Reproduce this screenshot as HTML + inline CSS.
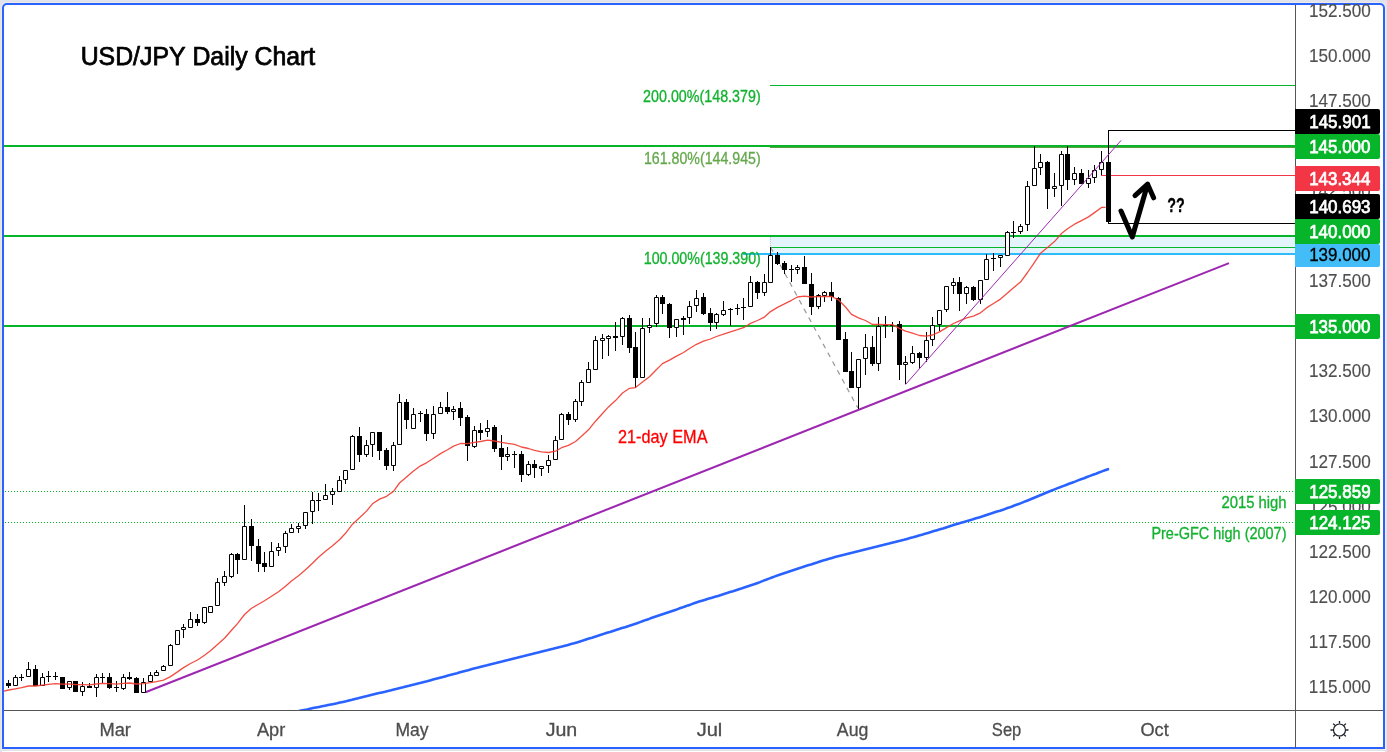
<!DOCTYPE html>
<html><head><meta charset="utf-8"><style>
html,body{margin:0;padding:0;width:1387px;height:752px;overflow:hidden;background:#e0e3eb;}
#frame{position:absolute;left:2px;top:3px;width:1379px;height:742px;border:2px solid #2962ff;border-radius:5px 5px 0 0;background:#fff;box-shadow:0 0 0 1px #ecebe8;}
#wb{position:absolute;left:2px;top:751px;width:1383px;height:1px;background:#fff;}
svg text{font-family:"Liberation Sans",sans-serif;font-kerning:none;}
</style></head><body><div id="frame"></div><div id="wb"></div>
<svg width="1387" height="752" viewBox="0 0 1387 752" style="position:absolute;left:0;top:0;will-change:transform">
<defs><clipPath id="cp"><rect x="4" y="5" width="1291" height="705"/></clipPath></defs>
<g clip-path="url(#cp)">
<rect x="770" y="237" width="525" height="16" fill="#e3f4fc"/>
<path d="M770.5 237V247" stroke="#b8bfe6" stroke-width="1" stroke-dasharray="1 1" shape-rendering="crispEdges"/>
<g shape-rendering="crispEdges">
<rect x="4" y="145" width="1291" height="2" fill="#07b52a"/>
<rect x="4" y="235" width="1291" height="2" fill="#07b52a"/>
<rect x="4" y="325" width="1291" height="2" fill="#07b52a"/>
<rect x="770" y="85" width="525" height="1" fill="#07b52a"/>
<rect x="770" y="147" width="525" height="1" fill="#5b9e3c"/>
<rect x="771" y="247" width="524" height="1" fill="#07b52a"/>
<rect x="743" y="253" width="552" height="2" fill="#2ebbfb"/>
<path d="M5 491.5H1295M5 522.5H1295" stroke="#07b52a" stroke-width="1" stroke-dasharray="1 2"/>
<path d="M1295 130.5H1108.5V223.5H1295" stroke="#000" stroke-width="1" fill="none"/>
<path d="M1101 175.5H1295" stroke="#f23645" stroke-width="1"/>
</g>
<polyline points="298.0,711.3 301.0,710.6 304.0,710.0 307.0,709.4 310.0,708.7 313.0,708.1 316.0,707.5 319.0,706.9 322.0,706.3 325.0,705.7 328.0,705.1 331.0,704.5 334.0,703.9 337.0,703.3 340.0,702.6 343.0,701.9 346.0,701.2 349.0,700.4 352.0,699.7 355.0,698.9 358.0,698.2 361.0,697.4 364.0,696.7 367.0,696.0 370.0,695.2 373.0,694.5 376.0,693.8 379.0,693.1 382.0,692.4 385.0,691.7 388.0,690.9 391.0,690.2 394.0,689.4 397.0,688.7 400.0,687.9 403.0,687.2 406.0,686.4 409.0,685.7 412.0,684.9 415.0,684.2 418.0,683.4 421.0,682.7 424.0,681.9 427.0,681.2 430.0,680.4 433.0,679.6 436.0,678.8 439.0,678.0 442.0,677.2 445.0,676.4 448.0,675.6 451.0,674.8 454.0,674.0 457.0,673.2 460.0,672.3 463.0,671.5 466.0,670.7 469.0,669.9 472.0,669.1 475.0,668.3 478.0,667.6 481.0,666.8 484.0,666.0 487.0,665.3 490.0,664.5 493.0,663.7 496.0,663.0 499.0,662.2 502.0,661.5 505.0,660.7 508.0,660.0 511.0,659.2 514.0,658.5 517.0,657.8 520.0,657.0 523.0,656.3 526.0,655.5 529.0,654.8 532.0,654.1 535.0,653.3 538.0,652.6 541.0,651.8 544.0,651.0 547.0,650.3 550.0,649.5 553.0,648.8 556.0,648.0 559.0,647.2 562.0,646.5 565.0,645.7 568.0,644.9 571.0,644.1 574.0,643.3 577.0,642.4 580.0,641.5 583.0,640.6 586.0,639.6 589.0,638.6 592.0,637.7 595.0,636.7 598.0,635.7 601.0,634.7 604.0,633.8 607.0,632.8 610.0,631.9 613.0,630.9 616.0,630.0 619.0,629.1 622.0,628.1 625.0,627.2 628.0,626.2 631.0,625.2 634.0,624.2 637.0,623.2 640.0,622.1 643.0,621.0 646.0,619.9 649.0,618.9 652.0,617.8 655.0,616.7 658.0,615.7 661.0,614.7 664.0,613.7 667.0,612.7 670.0,611.7 673.0,610.7 676.0,609.7 679.0,608.6 682.0,607.6 685.0,606.5 688.0,605.4 691.0,604.4 694.0,603.3 697.0,602.3 700.0,601.3 703.0,600.4 706.0,599.5 709.0,598.6 712.0,597.7 715.0,596.8 718.0,595.9 721.0,594.9 724.0,594.0 727.0,593.1 730.0,592.1 733.0,591.2 736.0,590.2 739.0,589.2 742.0,588.3 745.0,587.3 748.0,586.3 751.0,585.3 754.0,584.3 757.0,583.2 760.0,582.1 763.0,580.9 766.0,579.8 769.0,578.6 772.0,577.5 775.0,576.4 778.0,575.3 781.0,574.3 784.0,573.3 787.0,572.3 790.0,571.2 793.0,570.2 796.0,569.2 799.0,568.2 802.0,567.3 805.0,566.3 808.0,565.3 811.0,564.4 814.0,563.4 817.0,562.5 820.0,561.5 823.0,560.6 826.0,559.7 829.0,558.8 832.0,557.9 835.0,557.1 838.0,556.3 841.0,555.5 844.0,554.8 847.0,554.0 850.0,553.2 853.0,552.5 856.0,551.7 859.0,551.0 862.0,550.2 865.0,549.5 868.0,548.8 871.0,548.1 874.0,547.3 877.0,546.6 880.0,545.8 883.0,545.1 886.0,544.3 889.0,543.6 892.0,542.8 895.0,542.1 898.0,541.3 901.0,540.6 904.0,539.8 907.0,538.9 910.0,538.1 913.0,537.3 916.0,536.4 919.0,535.5 922.0,534.7 925.0,533.8 928.0,532.9 931.0,532.0 934.0,531.1 937.0,530.2 940.0,529.3 943.0,528.4 946.0,527.4 949.0,526.5 952.0,525.6 955.0,524.6 958.0,523.7 961.0,522.8 964.0,521.9 967.0,521.1 970.0,520.2 973.0,519.3 976.0,518.3 979.0,517.4 982.0,516.5 985.0,515.5 988.0,514.5 991.0,513.6 994.0,512.6 997.0,511.6 1000.0,510.7 1003.0,509.7 1006.0,508.6 1009.0,507.6 1012.0,506.5 1015.0,505.3 1018.0,504.2 1021.0,503.1 1024.0,501.9 1027.0,500.7 1030.0,499.5 1033.0,498.2 1036.0,497.0 1039.0,495.7 1042.0,494.5 1045.0,493.2 1048.0,492.0 1051.0,490.8 1054.0,489.6 1057.0,488.4 1060.0,487.3 1063.0,486.1 1066.0,485.0 1069.0,483.8 1072.0,482.7 1075.0,481.6 1078.0,480.4 1081.0,479.3 1084.0,478.2 1087.0,477.0 1090.0,475.9 1093.0,474.8 1096.0,473.7 1099.0,472.5 1102.0,471.4 1105.0,470.3 1108.0,469.2" fill="none" stroke="#2962ff" stroke-width="2.6" stroke-linecap="round" stroke-linejoin="round"/>
<path d="M145.5 692.3L1229 263.1" stroke="#9c27b0" stroke-width="2.05" fill="none"/>
<path d="M770.6 247.2L857.8 407.9" stroke="#9a9a9a" stroke-width="1.25" stroke-dasharray="5 5" fill="none"/>
<path d="M8.5 680V688M15.5 675V677M15.5 686V686M21.5 674V681M28.5 662V669M28.5 677V677M35.5 665V686M42.5 673V677M42.5 686V686M48.5 671V682M55.5 672V680M62.5 677V689M69.5 681V681M69.5 688V690M75.5 681V692M82.5 682V686M82.5 692V696M89.5 683V688M96.5 674V677M96.5 688V697M102.5 673V683M109.5 673V689M116.5 681V692M123.5 674V677M123.5 689V690M129.5 672V680M136.5 677V693M143.5 678V682M143.5 693V693M150.5 672V675M150.5 682V682M156.5 670V672M156.5 676V676M163.5 665V666M163.5 671V671M170.5 644V645M170.5 666V666M177.5 630V630M177.5 645V645M183.5 624V627M183.5 630V638M190.5 612V619M190.5 628V628M197.5 614V626M204.5 607V607M204.5 623V624M210.5 606V606M210.5 613V613M217.5 578V582M217.5 606V606M224.5 571V576M224.5 583V586M231.5 553V554M231.5 577V578M237.5 553V574M244.5 505V526M244.5 560V560M251.5 519V561M258.5 539V572M264.5 552V572M271.5 542V551M271.5 567V567M278.5 543V547M278.5 551V556M285.5 531V533M285.5 547V553M291.5 524V528M291.5 533V533M298.5 523V526M298.5 529V533M305.5 512V512M305.5 526V529M312.5 492V500M312.5 512V524M318.5 493V511M325.5 484V495M325.5 500V500M332.5 488V491M332.5 495V505M339.5 476V480M339.5 492V492M345.5 470V470M345.5 480V484M352.5 435V436M352.5 470V470M359.5 427V462M366.5 440V445M366.5 455V457M372.5 432V432M372.5 445V457M379.5 432V460M386.5 448V470M393.5 442V445M393.5 466V471M399.5 394V402M399.5 445V445M406.5 399V429M413.5 408V414M413.5 429V429M420.5 411V422M426.5 409V441M433.5 406V414M433.5 434V439M440.5 402V407M440.5 414V414M447.5 392V414M453.5 406V409M453.5 412V420M460.5 402V426M467.5 415V461M474.5 426V430M474.5 447V448M480.5 423V440M487.5 420V428M487.5 432V437M494.5 425V452M501.5 435V470M507.5 447V454M507.5 457V461M514.5 451V468M521.5 451V482M528.5 461V464M528.5 475V476M534.5 460V478M541.5 466V466M541.5 469V476M548.5 455V460M548.5 466V473M555.5 436V440M555.5 460V460M561.5 413V414M561.5 440V440M568.5 412V425M575.5 399V401M575.5 420V422M581.5 380V382M581.5 402V406M588.5 362V369M588.5 383V383M595.5 336V340M595.5 370V370M602.5 334V338M602.5 341V359M608.5 335V336M608.5 339V356M615.5 322V351M622.5 317V318M622.5 337V345M629.5 315V353M635.5 332V388M642.5 318V328M642.5 378V378M649.5 318V325M649.5 328V333M656.5 295V297M656.5 324V327M662.5 295V314M669.5 303V338M676.5 319V319M676.5 328V337M683.5 316V335M689.5 301V306M689.5 318V324M696.5 290V298M696.5 306V312M703.5 293V315M710.5 308V331M716.5 313V314M716.5 323V329M723.5 301V310M723.5 315V316M730.5 308V326M737.5 304V315M743.5 298V320M750.5 276V282M750.5 307V307M757.5 281V299M764.5 274V282M764.5 293V296M770.5 247V255M770.5 283V283M777.5 252V265M784.5 261V274M791.5 265V282M797.5 265V267M797.5 270V274M804.5 256V284M811.5 273V315M818.5 294V295M818.5 307V309M824.5 291V292M824.5 296V302M831.5 282V301M838.5 297V340M845.5 332V372M851.5 352V388M858.5 359V359M858.5 388V409M865.5 334V347M865.5 359V375M872.5 336V366M878.5 317V326M878.5 364V371M885.5 316V338M892.5 322V332M899.5 321V380M905.5 356V362M905.5 365V384M912.5 346V353M912.5 363V364M919.5 352V369M926.5 332V340M926.5 358V362M932.5 317V325M932.5 340V346M939.5 310V310M939.5 325V331M946.5 286V286M946.5 310V312M953.5 278V282M953.5 286V294M959.5 277V311M966.5 286V287M966.5 294V304M973.5 286V301M980.5 280V280M980.5 300V304M986.5 254V259M986.5 280V280M993.5 253V271M1000.5 255V255M1000.5 258V267M1007.5 231V232M1007.5 256V256M1013.5 221V238M1020.5 224V226M1020.5 232V234M1027.5 181V186M1027.5 225V231M1034.5 146V168M1034.5 186V186M1040.5 154V162M1040.5 168V175M1047.5 161V209M1054.5 173V186M1054.5 189V197M1061.5 151V154M1061.5 186V206M1067.5 146V190M1074.5 167V173M1074.5 180V185M1081.5 169V184M1088.5 170V178M1088.5 184V188M1094.5 165V170M1094.5 178V183M1101.5 151V162M1101.5 170V175M1108.5 130V222" stroke="#000" stroke-width="1" fill="none"/>
<path d="M6 683h5v3h-5zM19 677h5v1h-5zM33 669h5v17h-5zM46 676h5v1h-5zM53 676h5v1h-5zM60 677h5v12h-5zM73 681h5v11h-5zM87 686h5v2h-5zM100 677h5v1h-5zM107 677h5v11h-5zM114 687h5v1h-5zM127 677h5v2h-5zM134 678h5v15h-5zM195 619h5v4h-5zM235 554h5v6h-5zM249 526h5v20h-5zM256 546h5v18h-5zM262 563h5v4h-5zM316 500h5v1h-5zM357 436h5v19h-5zM377 432h5v19h-5zM384 450h5v16h-5zM404 402h5v18h-5zM418 413h5v1h-5zM424 414h5v20h-5zM445 407h5v5h-5zM458 408h5v10h-5zM465 417h5v29h-5zM478 430h5v3h-5zM492 427h5v22h-5zM499 448h5v9h-5zM512 454h5v1h-5zM519 454h5v21h-5zM532 464h5v4h-5zM566 414h5v6h-5zM613 336h5v2h-5zM627 318h5v30h-5zM633 347h5v31h-5zM660 297h5v7h-5zM667 304h5v24h-5zM681 318h5v2h-5zM701 297h5v17h-5zM708 313h5v10h-5zM728 309h5v1h-5zM735 308h5v1h-5zM741 307h5v1h-5zM755 282h5v11h-5zM775 255h5v9h-5zM782 263h5v7h-5zM789 269h5v1h-5zM802 267h5v17h-5zM809 284h5v23h-5zM829 292h5v5h-5zM836 298h5v42h-5zM843 339h5v33h-5zM849 371h5v17h-5zM870 347h5v17h-5zM883 325h5v1h-5zM890 325h5v1h-5zM897 324h5v41h-5zM917 353h5v5h-5zM957 282h5v12h-5zM971 287h5v13h-5zM991 258h5v1h-5zM1011 232h5v1h-5zM1045 162h5v27h-5zM1065 154h5v26h-5zM1079 173h5v11h-5zM1106 162h5v60h-5z" fill="#000"/>
<path d="M13.5 677.5h4v8h-4zM26.5 669.5h4v7h-4zM40.5 677.5h4v8h-4zM67.5 681.5h4v6h-4zM80.5 686.5h4v5h-4zM94.5 677.5h4v10h-4zM121.5 677.5h4v11h-4zM141.5 682.5h4v10h-4zM148.5 675.5h4v6h-4zM154.5 672.5h4v3h-4zM161.5 666.5h4v4h-4zM168.5 645.5h4v20h-4zM175.5 630.5h4v14h-4zM181.5 627.5h4v2h-4zM188.5 619.5h4v8h-4zM202.5 607.5h4v15h-4zM208.5 606.5h4v6h-4zM215.5 582.5h4v23h-4zM222.5 576.5h4v6h-4zM229.5 554.5h4v22h-4zM242.5 526.5h4v33h-4zM269.5 551.5h4v15h-4zM276.5 547.5h4v3h-4zM283.5 533.5h4v13h-4zM289.5 528.5h4v4h-4zM296.5 526.5h4v2h-4zM303.5 512.5h4v13h-4zM310.5 500.5h4v11h-4zM323.5 495.5h4v4h-4zM330.5 491.5h4v3h-4zM337.5 480.5h4v11h-4zM343.5 470.5h4v9h-4zM350.5 436.5h4v33h-4zM364.5 445.5h4v9h-4zM370.5 432.5h4v12h-4zM391.5 445.5h4v20h-4zM397.5 402.5h4v42h-4zM411.5 414.5h4v14h-4zM431.5 414.5h4v19h-4zM438.5 407.5h4v6h-4zM451.5 409.5h4v2h-4zM472.5 430.5h4v16h-4zM485.5 428.5h4v3h-4zM505.5 454.5h4v2h-4zM526.5 464.5h4v10h-4zM539.5 466.5h4v2h-4zM546.5 460.5h4v5h-4zM553.5 440.5h4v19h-4zM559.5 414.5h4v25h-4zM573.5 401.5h4v18h-4zM579.5 382.5h4v19h-4zM586.5 369.5h4v13h-4zM593.5 340.5h4v29h-4zM600.5 338.5h4v2h-4zM606.5 336.5h4v2h-4zM620.5 318.5h4v18h-4zM640.5 328.5h4v49h-4zM647.5 325.5h4v2h-4zM654.5 297.5h4v26h-4zM674.5 319.5h4v8h-4zM687.5 306.5h4v11h-4zM694.5 298.5h4v7h-4zM714.5 314.5h4v8h-4zM721.5 310.5h4v4h-4zM748.5 282.5h4v24h-4zM762.5 282.5h4v10h-4zM768.5 255.5h4v27h-4zM795.5 267.5h4v2h-4zM816.5 295.5h4v11h-4zM822.5 292.5h4v3h-4zM856.5 359.5h4v28h-4zM863.5 347.5h4v11h-4zM876.5 326.5h4v37h-4zM903.5 362.5h4v2h-4zM910.5 353.5h4v9h-4zM924.5 340.5h4v17h-4zM930.5 325.5h4v14h-4zM937.5 310.5h4v14h-4zM944.5 286.5h4v23h-4zM951.5 282.5h4v3h-4zM964.5 287.5h4v6h-4zM978.5 280.5h4v19h-4zM984.5 259.5h4v20h-4zM998.5 255.5h4v2h-4zM1005.5 232.5h4v23h-4zM1018.5 226.5h4v5h-4zM1025.5 186.5h4v38h-4zM1032.5 168.5h4v17h-4zM1038.5 162.5h4v5h-4zM1052.5 186.5h4v2h-4zM1059.5 154.5h4v31h-4zM1072.5 173.5h4v6h-4zM1086.5 178.5h4v5h-4zM1092.5 170.5h4v7h-4zM1099.5 162.5h4v7h-4z" fill="#fff" stroke="#000" stroke-width="1"/>
<polyline points="4.0,691.2 8.5,690.0 15.5,688.8 21.5,687.7 28.5,686.0 35.5,686.0 42.5,685.1 48.5,684.3 55.5,683.6 62.5,684.1 69.5,683.8 75.5,684.6 82.5,684.6 89.5,684.8 96.5,684.0 102.5,683.3 109.5,683.7 116.5,684.1 123.5,683.4 129.5,683.0 136.5,684.0 143.5,683.6 150.5,682.7 156.5,681.7 163.5,680.1 170.5,676.6 177.5,671.9 183.5,667.6 190.5,663.5 197.5,660.0 204.5,655.2 210.5,650.8 217.5,644.6 224.5,638.3 231.5,630.3 237.5,623.6 244.5,614.5 251.5,608.2 258.5,604.2 264.5,600.8 271.5,596.3 278.5,591.8 285.5,586.3 291.5,581.0 298.5,575.8 305.5,569.8 312.5,563.2 318.5,557.2 325.5,551.3 332.5,545.8 339.5,539.8 345.5,533.3 352.5,524.2 359.5,517.8 366.5,511.1 372.5,503.8 379.5,499.1 386.5,496.3 393.5,491.4 399.5,483.0 406.5,477.0 413.5,471.1 420.5,465.8 426.5,462.8 433.5,458.3 440.5,453.6 447.5,449.8 453.5,446.1 460.5,443.5 467.5,443.7 474.5,442.4 480.5,441.5 487.5,440.2 494.5,441.0 501.5,442.4 507.5,443.4 514.5,444.3 521.5,447.0 528.5,448.5 534.5,450.3 541.5,451.8 548.5,452.5 555.5,451.2 561.5,447.7 568.5,445.4 575.5,441.5 581.5,436.3 588.5,429.8 595.5,421.2 602.5,413.5 608.5,406.9 615.5,400.6 622.5,393.0 629.5,388.3 635.5,387.6 642.5,382.0 649.5,376.8 656.5,369.5 662.5,363.6 669.5,360.1 676.5,356.1 683.5,352.5 689.5,348.5 696.5,344.3 703.5,341.1 710.5,339.0 716.5,336.5 723.5,334.1 730.5,331.8 737.5,329.7 743.5,327.7 750.5,323.4 757.5,320.5 764.5,317.1 770.5,311.6 777.5,307.4 784.5,303.8 791.5,300.3 797.5,297.0 804.5,296.2 811.5,297.0 818.5,296.7 824.5,296.4 831.5,296.5 838.5,299.9 845.5,307.0 851.5,314.3 858.5,317.8 865.5,320.5 872.5,324.5 878.5,324.5 885.5,324.6 892.5,324.7 899.5,328.3 905.5,331.2 912.5,333.2 919.5,335.5 926.5,336.1 932.5,335.0 939.5,331.9 946.5,327.6 953.5,323.5 959.5,320.9 966.5,317.9 973.5,316.1 980.5,312.8 986.5,307.9 993.5,303.5 1000.5,299.1 1007.5,293.1 1013.5,287.7 1020.5,282.1 1027.5,272.5 1034.5,262.3 1040.5,253.3 1047.5,247.6 1054.5,241.6 1061.5,233.5 1067.5,228.8 1074.5,224.2 1081.5,220.6 1088.5,216.9 1094.5,212.6 1101.5,207.4 1105.6,207.4" fill="none" stroke="#f23a2f" stroke-opacity="0.9" stroke-width="1.3" stroke-linejoin="round"/>
<path d="M905.5 384.5L1121.1 140.4" stroke="#9c27b0" stroke-width="1" fill="none"/>
<path d="M1121 211L1132.3 237L1147.6 184.2M1135 195.6L1147.6 184.2L1153.6 197.8" stroke="#000" stroke-width="5" fill="none" stroke-linecap="round" stroke-linejoin="round"/>
</g>
<text x="80.68" y="65.20" font-size="24.9" fill="#000" textLength="234.58" lengthAdjust="spacingAndGlyphs" stroke="#000" stroke-width="0.75">USD/JPY Daily Chart</text>
<text x="643.09" y="101.85" font-size="15.6" fill="#12b22f" textLength="117.59" lengthAdjust="spacingAndGlyphs" stroke="#12b22f" stroke-width="0.3">200.00%(148.379)</text>
<text x="643.92" y="163.85" font-size="15.6" fill="#64a84c" textLength="116.75" lengthAdjust="spacingAndGlyphs" stroke="#64a84c" stroke-width="0.3">161.80%(144.945)</text>
<text x="643.72" y="263.85" font-size="15.6" fill="#12b22f" textLength="117.16" lengthAdjust="spacingAndGlyphs" stroke="#12b22f" stroke-width="0.3">100.00%(139.390)</text>
<text x="617.99" y="442.90" font-size="18.4" fill="#ff0000" textLength="89.55" lengthAdjust="spacingAndGlyphs" stroke="#ff0000" stroke-width="0.3">21-day EMA</text>
<text x="1221.46" y="507.90" font-size="15.6" fill="#12b22f" textLength="65.11" lengthAdjust="spacingAndGlyphs" stroke="#12b22f" stroke-width="0.3">2015 high</text>
<text x="1151.41" y="538.80" font-size="15.6" fill="#12b22f" textLength="135.08" lengthAdjust="spacingAndGlyphs" stroke="#12b22f" stroke-width="0.3">Pre-GFC high (2007)</text>
<text x="1167.34" y="212.00" font-size="20.0" font-weight="bold" fill="#000" textLength="17.48" lengthAdjust="spacingAndGlyphs" stroke="#000" stroke-width="0.3">??</text>
<g shape-rendering="crispEdges"><rect x="1295" y="5" width="1" height="743" fill="#555"/><rect x="4" y="710" width="1379" height="1" fill="#555"/></g>
<text x="1308.90" y="16.60" font-size="18.3" fill="#4f4f4f" textLength="61.86" lengthAdjust="spacingAndGlyphs" stroke="#4f4f4f" stroke-width="0.15">152.500</text>
<text x="1308.90" y="61.60" font-size="18.3" fill="#4f4f4f" textLength="61.86" lengthAdjust="spacingAndGlyphs" stroke="#4f4f4f" stroke-width="0.15">150.000</text>
<text x="1308.90" y="106.60" font-size="18.3" fill="#4f4f4f" textLength="61.86" lengthAdjust="spacingAndGlyphs" stroke="#4f4f4f" stroke-width="0.15">147.500</text>
<text x="1308.90" y="151.60" font-size="18.3" fill="#4f4f4f" textLength="61.86" lengthAdjust="spacingAndGlyphs" stroke="#4f4f4f" stroke-width="0.15">145.000</text>
<text x="1308.90" y="196.60" font-size="18.3" fill="#4f4f4f" textLength="61.86" lengthAdjust="spacingAndGlyphs" stroke="#4f4f4f" stroke-width="0.15">142.500</text>
<text x="1308.90" y="241.60" font-size="18.3" fill="#4f4f4f" textLength="61.86" lengthAdjust="spacingAndGlyphs" stroke="#4f4f4f" stroke-width="0.15">140.000</text>
<text x="1308.90" y="286.60" font-size="18.3" fill="#4f4f4f" textLength="61.86" lengthAdjust="spacingAndGlyphs" stroke="#4f4f4f" stroke-width="0.15">137.500</text>
<text x="1308.90" y="331.60" font-size="18.3" fill="#4f4f4f" textLength="61.86" lengthAdjust="spacingAndGlyphs" stroke="#4f4f4f" stroke-width="0.15">135.000</text>
<text x="1308.90" y="376.60" font-size="18.3" fill="#4f4f4f" textLength="61.86" lengthAdjust="spacingAndGlyphs" stroke="#4f4f4f" stroke-width="0.15">132.500</text>
<text x="1308.90" y="421.60" font-size="18.3" fill="#4f4f4f" textLength="61.86" lengthAdjust="spacingAndGlyphs" stroke="#4f4f4f" stroke-width="0.15">130.000</text>
<text x="1308.90" y="467.60" font-size="18.3" fill="#4f4f4f" textLength="61.86" lengthAdjust="spacingAndGlyphs" stroke="#4f4f4f" stroke-width="0.15">127.500</text>
<text x="1308.90" y="512.60" font-size="18.3" fill="#4f4f4f" textLength="61.86" lengthAdjust="spacingAndGlyphs" stroke="#4f4f4f" stroke-width="0.15">125.000</text>
<text x="1308.90" y="557.60" font-size="18.3" fill="#4f4f4f" textLength="61.86" lengthAdjust="spacingAndGlyphs" stroke="#4f4f4f" stroke-width="0.15">122.500</text>
<text x="1308.90" y="602.60" font-size="18.3" fill="#4f4f4f" textLength="61.86" lengthAdjust="spacingAndGlyphs" stroke="#4f4f4f" stroke-width="0.15">120.000</text>
<text x="1308.87" y="647.60" font-size="18.3" fill="#4f4f4f" textLength="61.92" lengthAdjust="spacingAndGlyphs" stroke="#4f4f4f" stroke-width="0.15">117.500</text>
<text x="1308.87" y="692.60" font-size="18.3" fill="#4f4f4f" textLength="61.92" lengthAdjust="spacingAndGlyphs" stroke="#4f4f4f" stroke-width="0.15">115.000</text>
<path d="M1295 109h83a2 2 0 0 1 2 2v21a2 2 0 0 1-2 2h-83z" fill="#000"/>
<text x="1309.21" y="127.60" font-size="18.3" fill="#fff" textLength="61.42" lengthAdjust="spacingAndGlyphs" stroke="#fff" stroke-width="0.75">145.901</text>
<path d="M1295 134h83a2 2 0 0 1 2 2v21a2 2 0 0 1-2 2h-83z" fill="#07b52a"/>
<text x="1309.21" y="152.80" font-size="18.3" fill="#fff" textLength="61.24" lengthAdjust="spacingAndGlyphs" stroke="#fff" stroke-width="0.75">145.000</text>
<path d="M1295 166h83a2 2 0 0 1 2 2v21a2 2 0 0 1-2 2h-83z" fill="#f23645"/>
<text x="1309.22" y="184.80" font-size="18.3" fill="#fff" textLength="61.07" lengthAdjust="spacingAndGlyphs" stroke="#fff" stroke-width="0.75">143.344</text>
<path d="M1295 194h83a2 2 0 0 1 2 2v21a2 2 0 0 1-2 2h-83z" fill="#000"/>
<text x="1309.21" y="212.80" font-size="18.3" fill="#fff" textLength="61.33" lengthAdjust="spacingAndGlyphs" stroke="#fff" stroke-width="0.75">140.693</text>
<path d="M1295 219h83a2 2 0 0 1 2 2v21a2 2 0 0 1-2 2h-83z" fill="#07b52a"/>
<text x="1309.21" y="237.80" font-size="18.3" fill="#fff" textLength="61.24" lengthAdjust="spacingAndGlyphs" stroke="#fff" stroke-width="0.75">140.000</text>
<path d="M1295 244h83a2 2 0 0 1 2 2v19a2 2 0 0 1-2 2h-83z" fill="#42bdf8"/>
<text x="1309.21" y="261.20" font-size="18.3" fill="#000" textLength="61.24" lengthAdjust="spacingAndGlyphs" stroke="#000" stroke-width="0.3">139.000</text>
<path d="M1295 314h83a2 2 0 0 1 2 2v21a2 2 0 0 1-2 2h-83z" fill="#07b52a"/>
<text x="1309.21" y="332.90" font-size="18.3" fill="#fff" textLength="61.24" lengthAdjust="spacingAndGlyphs" stroke="#fff" stroke-width="0.75">135.000</text>
<path d="M1295 479h83a2 2 0 0 1 2 2v21a2 2 0 0 1-2 2h-83z" fill="#07b52a"/>
<text x="1309.21" y="497.80" font-size="18.3" fill="#fff" textLength="61.38" lengthAdjust="spacingAndGlyphs" stroke="#fff" stroke-width="0.75">125.859</text>
<path d="M1295 510h83a2 2 0 0 1 2 2v21a2 2 0 0 1-2 2h-83z" fill="#07b52a"/>
<text x="1309.21" y="528.80" font-size="18.3" fill="#fff" textLength="61.30" lengthAdjust="spacingAndGlyphs" stroke="#fff" stroke-width="0.75">124.125</text>
<text x="99.40" y="736.00" font-size="18.3" fill="#4d4d4d" textLength="31.50" lengthAdjust="spacingAndGlyphs" stroke="#4d4d4d" stroke-width="0.3">Mar</text>
<text x="256.96" y="736.00" font-size="18.3" fill="#4d4d4d" textLength="28.33" lengthAdjust="spacingAndGlyphs" stroke="#4d4d4d" stroke-width="0.3">Apr</text>
<text x="395.46" y="736.00" font-size="18.3" fill="#4d4d4d" textLength="33.07" lengthAdjust="spacingAndGlyphs" stroke="#4d4d4d" stroke-width="0.3">May</text>
<text x="545.69" y="736.00" font-size="18.3" fill="#4d4d4d" textLength="31.59" lengthAdjust="spacingAndGlyphs" stroke="#4d4d4d" stroke-width="0.3">Jun</text>
<text x="696.68" y="736.00" font-size="18.3" fill="#4d4d4d" textLength="25.67" lengthAdjust="spacingAndGlyphs" stroke="#4d4d4d" stroke-width="0.3">Jul</text>
<text x="836.86" y="736.00" font-size="18.3" fill="#4d4d4d" textLength="31.47" lengthAdjust="spacingAndGlyphs" stroke="#4d4d4d" stroke-width="0.3">Aug</text>
<text x="991.86" y="736.00" font-size="18.3" fill="#4d4d4d" textLength="29.44" lengthAdjust="spacingAndGlyphs" stroke="#4d4d4d" stroke-width="0.3">Sep</text>
<text x="1140.45" y="736.00" font-size="18.3" fill="#4d4d4d" textLength="28.28" lengthAdjust="spacingAndGlyphs" stroke="#4d4d4d" stroke-width="0.3">Oct</text>
<circle cx="1339.5" cy="730" r="6" fill="none" stroke="#1a1d26" stroke-width="1.2"/><path d="M1346.10 730.00L1348.50 730.00M1344.17 734.67L1345.86 736.36M1339.50 736.60L1339.50 739.00M1334.83 734.67L1333.14 736.36M1332.90 730.00L1330.50 730.00M1334.83 725.33L1333.14 723.64M1339.50 723.40L1339.50 721.00M1344.17 725.33L1345.86 723.64" stroke="#1a1d26" stroke-width="1.3"/>
</svg>
</body></html>
